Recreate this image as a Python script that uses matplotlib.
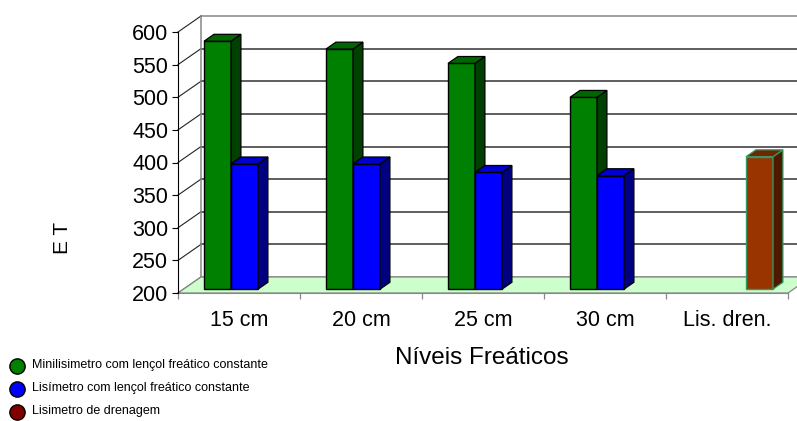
import matplotlib
matplotlib.use('Agg')
import matplotlib.pyplot as plt
from matplotlib.patches import Polygon
from matplotlib.lines import Line2D

plt.rcParams['font.family'] = ['Liberation Sans', 'DejaVu Sans']

categories = ['15 cm', '20 cm', '25 cm', '30 cm', 'Lis. dren.']
mini_lisimetro = [580, 568, 546, 494, None]
lisimetro = [392, 392, 379, 374, None]
lis_drenagem = [None, None, None, None, 403]
series_names = ['Minilisimetro com lençol freático constante',
                'Lisímetro com lençol freático constante',
                'Lisimetro de drenagem']
y_ticks = [200, 250, 300, 350, 400, 450, 500, 550, 600]

# face colours: front, side, top, edge
styles = [
    ('#008000', '#004000', '#006600', 'black'),
    ('#0000ff', '#000080', '#0000cc', 'black'),
    ('#993300', '#4d1a00', '#702600', '#339966'),
]
legend_colors = ['#008000', '#0000ff', '#800000']

FLOOR = 200
# depth of the 3d box expressed in data units (x: categories, y: ET)
DX = 23 / 122
DY = 16 / 0.6525
T0, T1 = 0.24, 0.67   # bar front / back position inside the depth
W = 27 / 122          # bar width


def poly(ax, pts, fc, ec, lw=0.9, z=2):
    ax.add_patch(Polygon(pts, closed=True, facecolor=fc, edgecolor=ec,
                         linewidth=lw, clip_on=False, zorder=z))


fig = plt.figure(figsize=(7.97, 4.21), dpi=100)
ax = fig.add_axes([178 / 797, (421 - 293) / 421, 610 / 797, 261 / 421])
ax.set_xlim(0, 5)
ax.set_ylim(200, 600)
ax.patch.set_visible(False)

# back wall gridlines and edges
for y in y_ticks:
    col = '#888888' if y in (200, 600) else '#333333'
    ax.plot([DX, 5 + DX], [y + DY, y + DY], color=col, lw=1.1, clip_on=False, zorder=0)
    ax.plot([0, DX], [y, y + DY], color='#222222', lw=0.8, clip_on=False, zorder=0)
ax.plot([DX, DX], [200 + DY, 600 + DY], color='#888888', lw=1.1, clip_on=False, zorder=0)

# floor
poly(ax, [(0, FLOOR), (5, FLOOR), (5 + DX, FLOOR + DY), (DX, FLOOR + DY)],
     '#ccffcc', '#888888', lw=0.9, z=0.5)

# bars
all_series = [mini_lisimetro, lisimetro, lis_drenagem]
for i in range(len(categories)):
    for k, vals in enumerate(all_series):
        v = vals[i]
        if v is None:
            continue
        front, side, top, edge = styles[k]
        x0 = i + 0.5 + (k - 1) * W - W / 2 + T0 * DX
        y0 = FLOOR + T0 * DY
        ax.bar(x0, v - FLOOR, bottom=y0, width=W, align='edge', color=front,
               edgecolor=edge, linewidth=1.0, clip_on=False, zorder=3)
        ddx, ddy = (T1 - T0) * DX, (T1 - T0) * DY
        x1 = x0 + W
        y1 = y0 + v - FLOOR
        poly(ax, [(x1, y0), (x1 + ddx, y0 + ddy), (x1 + ddx, y1 + ddy), (x1, y1)],
             side, edge, z=3)
        poly(ax, [(x0, y1), (x1, y1), (x1 + ddx, y1 + ddy), (x0 + ddx, y1 + ddy)],
             top, edge, z=3)

# axes styling
for s in ['top', 'right']:
    ax.spines[s].set_visible(False)
ax.spines['left'].set_linewidth(0.8)
ax.spines['bottom'].set_color('#888888')
ax.spines['bottom'].set_zorder(0.6)
ax.set_yticks(y_ticks)
ax.tick_params(axis='y', length=4, width=0.8, pad=3, labelsize=15.5)
ax.set_xticks([i + 0.5 for i in range(len(categories))])
ax.set_xticklabels(categories)
ax.set_xticks(range(len(categories) + 1), minor=True)
ax.tick_params(axis='x', which='major', length=0, pad=12, labelsize=15.5)
ax.tick_params(axis='x', which='minor', length=4, width=0.9, color='#888888')

fig.text(63 / 797, 1 - 238 / 421, 'E T', rotation=90, ha='center', va='center', fontsize=15)
fig.text(482 / 797, 1 - 358 / 421, 'Níveis Freáticos', ha='center', va='center', fontsize=17.5)

# legend
leg_y = [366, 389, 412]
for name, c, y in zip(series_names, legend_colors, leg_y):
    fig.add_artist(Line2D([17 / 797], [1 - y / 421], transform=fig.transFigure,
                          marker='o', markersize=11, markerfacecolor=c,
                          markeredgecolor='black', markeredgewidth=1.0, linestyle='none'))
    fig.text(32 / 797, 1 - (y - 1) / 421, name, ha='left', va='center', fontsize=9)

fig.savefig('out.png', dpi=100)
